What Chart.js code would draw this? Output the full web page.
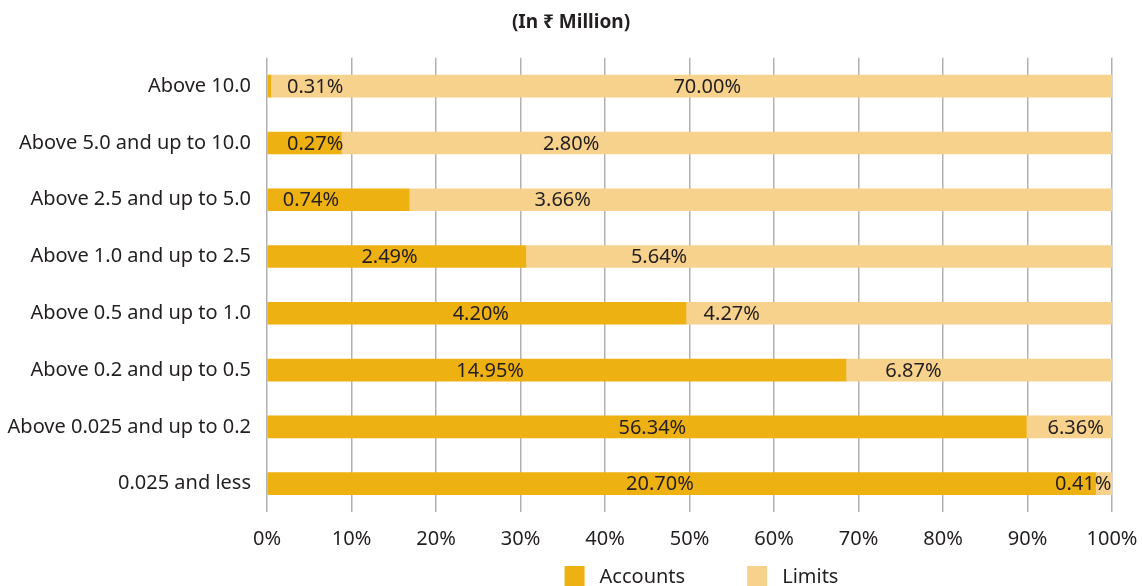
<!DOCTYPE html>
<html>
<head>
<meta charset="utf-8">
<script src="https://cdn.jsdelivr.net/npm/chart.js@4/dist/chart.umd.min.js"></script>
<style>
  html, body { margin: 0; padding: 0; background: #ffffff; overflow: hidden; }
  #wrap { position: relative; width: 1142px; height: 586px; }
</style>
</head>
<body>
<div id="wrap"><canvas id="chart"></canvas></div>
<script>
// Loan size buckets (In ₹ Million)
const categories = [
  'Above 10.0',
  'Above 5.0 and up to 10.0',
  'Above 2.5 and up to 5.0',
  'Above 1.0 and up to 2.5',
  'Above 0.5 and up to 1.0',
  'Above 0.2 and up to 0.5',
  'Above 0.025 and up to 0.2',
  '0.025 and less'
];

// Share of accounts and of limits in each bucket (%)
const accounts = [0.31, 0.27, 0.74, 2.49, 4.20, 14.95, 56.34, 20.70];
const limits   = [70.00, 2.80, 3.66, 5.64, 4.27, 6.87, 6.36, 0.41];

// Axis tick labels
const xTickLabels = ['0%', '10%', '20%', '30%', '40%', '50%', '60%', '70%', '80%', '90%', '100%'];

const TEXT = '#231f20';
const FONT = '"Noto Sans", "Open Sans", sans-serif';
const COLOR_ACCOUNTS = '#eeb112';
const COLOR_LIMITS = '#f7d28c';

// Each row is scaled to 100% of (accounts + limits)
const rowTotal = accounts.map((a, i) => a + limits[i]);
const accountsShare = accounts.map((a, i) => a / rowTotal[i] * 100);
const limitsShare = limits.map((l, i) => l / rowTotal[i] * 100);

// Writes the stated percentage on each segment, at an axis position per row
const valueLabels = {
  id: 'valueLabels',
  afterDatasetsDraw(chart, args, opts) {
    const ctx = chart.ctx;
    const xScale = chart.scales.x;
    ctx.save();
    ctx.font = `20px ${FONT}`;
    ctx.fillStyle = TEXT;
    ctx.textAlign = 'center';
    ctx.textBaseline = 'middle';
    chart.data.datasets.forEach((ds, di) => {
      const meta = chart.getDatasetMeta(di);
      const at = opts.anchors[di];
      meta.data.forEach((bar, i) => {
        const x = xScale.getPixelForValue(at[i]);
        ctx.fillText(ds.stated[i].toFixed(2) + '%', x, bar.y + 1);
      });
    });
    ctx.restore();
  }
};

// Legend row under the axis, centred on the plot
const bottomLegend = {
  id: 'bottomLegend',
  afterDraw(chart, args, opts) {
    const ctx = chart.ctx;
    const area = chart.chartArea;
    ctx.save();
    ctx.font = `20px ${FONT}`;
    const items = chart.data.datasets.map(d => ({
      label: d.label, color: d.backgroundColor, w: ctx.measureText(d.label).width
    }));
    const box = 20, gapText = 15, gapItem = 62;
    let total = items.reduce((s, it) => s + box + gapText + it.w, 0) + gapItem * (items.length - 1);
    let x = (area.left + area.right) / 2 + opts.shift - total / 2;
    const top = opts.top;
    items.forEach(it => {
      ctx.fillStyle = it.color;
      ctx.fillRect(x, top, box, 22);
      ctx.fillStyle = TEXT;
      ctx.textBaseline = 'alphabetic';
      ctx.textAlign = 'left';
      ctx.fillText(it.label, x + box + gapText, top + 17);
      x += box + gapText + it.w + gapItem;
    });
    ctx.restore();
  }
};

function draw() {
  new Chart(document.getElementById('chart'), {
    type: 'bar',
    data: {
      labels: categories,
      datasets: [
        { label: 'Accounts', data: accountsShare, stated: accounts,
          backgroundColor: COLOR_ACCOUNTS, barThickness: 22, borderWidth: 0 },
        { label: 'Limits', data: limitsShare, stated: limits,
          backgroundColor: COLOR_LIMITS, barThickness: 22, borderWidth: 0 }
      ]
    },
    plugins: [valueLabels, bottomLegend],
    options: {
      indexAxis: 'y',
      responsive: true,
      maintainAspectRatio: false,
      animation: false,
      layout: { padding: { left: 0, right: 0, top: 0, bottom: 34 } },
      scales: {
        x: {
          stacked: true,
          min: 0,
          max: 100,
          ticks: {
            stepSize: 10,
            color: TEXT,
            font: { family: FONT, size: 20 },
            padding: 15,
            maxRotation: 0,
            callback: (v, i) => xTickLabels[i]
          },
          grid: { color: '#b1b1b1', lineWidth: 1.5, drawTicks: false },
          border: { display: false },
          afterFit: s => { s.height = 40; s.paddingLeft = 0; s.paddingRight = 30; }
        },
        y: {
          stacked: true,
          ticks: {
            color: TEXT,
            font: { family: FONT, size: 20 },
            padding: 16
          },
          grid: { display: false, drawTicks: false },
          border: { display: false },
          afterFit: s => { s.width = 267; }
        }
      },
      plugins: {
        legend: { display: false },
        tooltip: { enabled: false },
        title: {
          display: true,
          text: '(In ₹ Million)',
          color: TEXT,
          font: { family: FONT, size: 19, weight: 'bold' },
          padding: { top: 11, bottom: 24 }
        },
        valueLabels: {
          anchors: [
            [5.7, 5.7, 5.2, 14.5, 25.3, 26.4, 45.6, 46.5],
            [52.1, 36.0, 35.0, 46.4, 55.0, 76.5, 95.7, 96.6]
          ]
        },
        bottomLegend: { top: 566, shift: 12 }
      }
    }
  });
}

if (document.fonts && document.fonts.load) {
  Promise.all([
    document.fonts.load(`20px ${FONT}`),
    document.fonts.load(`bold 19px ${FONT}`)
  ]).then(draw, draw);
} else {
  draw();
}
</script>
</body>
</html>
